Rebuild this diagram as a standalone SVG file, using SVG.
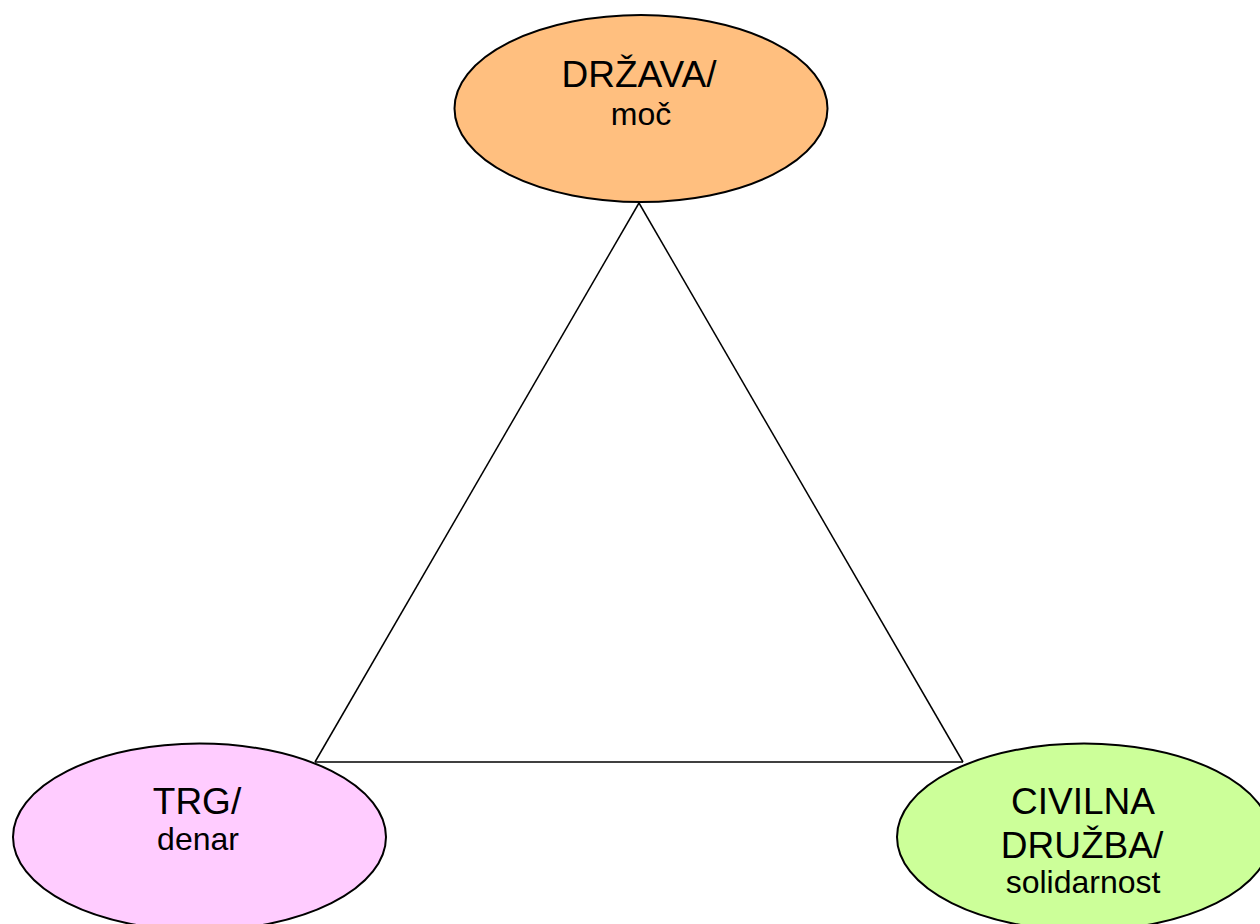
<svg xmlns="http://www.w3.org/2000/svg" width="1260" height="924" viewBox="0 0 1260 924">
  <style>
    .node { stroke: #000; stroke-width: 2; }
    .edge { stroke: #000; stroke-width: 1.5; fill: none; }
    text { font-family: "Liberation Sans", Arial, sans-serif; fill: #000; text-anchor: middle; }
    .big { font-size: 37px; }
    .small { font-size: 32px; }
  </style>
  <rect width="1260" height="924" fill="#fff"/>
  <g id="connectors">
    <line class="edge" x1="639" y1="203" x2="315" y2="762"/>
    <line class="edge" x1="639" y1="203" x2="963" y2="762"/>
    <line class="edge" x1="315" y1="762" x2="963" y2="762"/>
  </g>
  <g id="drzava">
    <ellipse class="node" cx="641" cy="108.5" rx="186.5" ry="93.5" fill="#FFBF7F"/>
    <text class="big" x="639" y="87">DRŽAVA/</text>
    <text class="small" x="641" y="125">moč</text>
  </g>
  <g id="trg">
    <ellipse class="node" cx="199.5" cy="837" rx="186.5" ry="93.5" fill="#FFCCFF"/>
    <text class="big" x="197" y="814">TRG/</text>
    <text class="small" x="198" y="850">denar</text>
  </g>
  <g id="civilna-druzba">
    <ellipse class="node" cx="1084" cy="837" rx="187" ry="93.5" fill="#CCFF99"/>
    <text class="big" x="1083" y="814">CIVILNA</text>
    <text class="big" x="1082" y="858">DRUŽBA/</text>
    <text class="small" x="1083" y="893">solidarnost</text>
  </g>
</svg>
